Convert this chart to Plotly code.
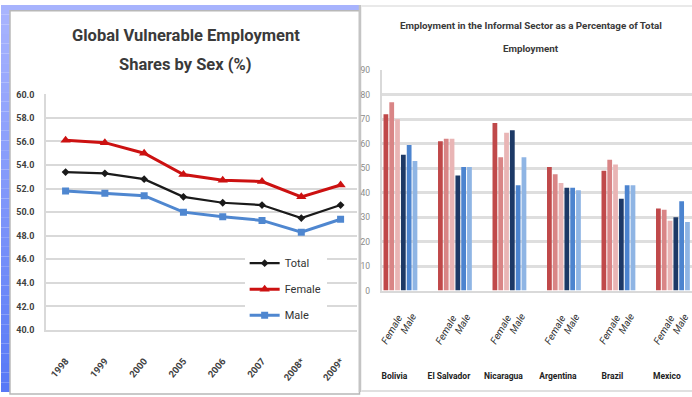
import plotly.graph_objects as go

W, H = 692, 397

# ---- Left chart: global vulnerable employment shares by sex (%) ----
years = ["1998", "1999", "2000", "2005", "2006", "2007", "2008*", "2009*"]
total = [53.4, 53.3, 52.8, 51.3, 50.8, 50.6, 49.5, 50.6]
female = [56.1, 55.9, 55.0, 53.2, 52.7, 52.6, 51.3, 52.3]
male = [51.8, 51.6, 51.4, 50.0, 49.6, 49.3, 48.3, 49.4]

# ---- Right chart: informal-sector employment as % of total ----
countries = ["Bolivia", "El Salvador", "Nicaragua", "Argentina", "Brazil", "Mexico"]
female_a = [72.0, 61.0, 68.5, 50.5, 49.0, 33.5]
female_b = [77.0, 62.0, 54.5, 47.5, 53.5, 33.0]
female_c = [70.0, 62.0, 64.5, 44.0, 51.5, 28.5]
male_a = [55.5, 47.0, 65.5, 42.0, 37.5, 30.0]
male_b = [59.5, 50.5, 43.0, 42.0, 43.0, 36.5]
male_c = [53.0, 50.5, 54.5, 41.0, 43.0, 28.0]
sex_labels = ["Female", "Male"]

FONT = "Roboto, Liberation Sans, sans-serif"
GRID = "#d9d9d9"


def px(x):
    return x / W


def py(y):
    return 1 - y / H


def nfont(size, color, **kw):
    return dict(family=FONT, size=size, color=color, **kw)


fig = go.Figure()

# Line series
fig.add_trace(go.Scatter(
    x=years, y=total, name="Total", mode="lines+markers", legendgroup="t",
    line=dict(color="#1a1a1a", width=2.2),
    marker=dict(symbol="diamond", size=6, color="#1a1a1a"),
    xaxis="x", yaxis="y"))
fig.add_trace(go.Scatter(
    x=years, y=female, name="Female", mode="lines+markers", legendgroup="f",
    line=dict(color="#cc1111", width=3),
    marker=dict(symbol="triangle-up", size=9, color="#cc1111"),
    xaxis="x", yaxis="y"))
fig.add_trace(go.Scatter(
    x=years, y=male, name="Male", mode="lines+markers", legendgroup="m",
    line=dict(color="#4f87d0", width=3),
    marker=dict(symbol="square", size=7, color="#4f87d0"),
    xaxis="x", yaxis="y"))

# Grouped bars: three female series then three male series per country
bar_series = [
    ("Female, period 1", female_a, "#c0494a"),
    ("Female, period 2", female_b, "#d98586"),
    ("Female, period 3", female_c, "#e9b5b5"),
    ("Male, period 1", male_a, "#1d3966"),
    ("Male, period 2", male_b, "#4c84cf"),
    ("Male, period 3", male_c, "#8fb5e4"),
]
for name, vals, col in bar_series:
    fig.add_trace(go.Bar(
        x=countries, y=vals, name=name, marker=dict(color=col, line=dict(width=0)),
        showlegend=False, xaxis="x2", yaxis="y2"))

# Background panels
shapes = []
shapes.append(dict(type="rect", xref="paper", yref="paper", x0=0, x1=px(360), y0=py(0), y1=py(8),
                   fillcolor="#a7b3fd", line=dict(width=0), layer="below"))
n = 40
top_c = (0xa8, 0xb4, 0xfe)
bot_c = (0x58, 0x79, 0xf6)
for i in range(n):
    t = i / (n - 1)
    c = tuple(int(round(top_c[k] + (bot_c[k] - top_c[k]) * t)) for k in range(3))
    shapes.append(dict(type="rect", xref="paper", yref="paper", x0=0, x1=px(9),
                       y0=py(H * (i + 1) / n), y1=py(H * i / n),
                       fillcolor="rgb(%d,%d,%d)" % c, line=dict(width=0), layer="below"))
shapes.append(dict(type="rect", xref="paper", yref="paper", x0=px(9), x1=px(359), y0=py(H + 2), y1=py(6),
                   fillcolor="white", line=dict(color="#b8b8b8", width=1.5), layer="below"))
shapes.append(dict(type="line", xref="paper", yref="paper", x0=px(359.5), x1=px(359.5), y0=0, y1=1,
                   line=dict(color="#c4c4c4", width=2.5), layer="below"))
shapes.append(dict(type="line", xref="paper", yref="paper", x0=px(361), x1=1, y0=py(1), y1=py(1),
                   line=dict(color="#e2e2e2", width=1.5), layer="below"))
shapes.append(dict(type="line", xref="paper", yref="paper", x0=px(361), x1=1, y0=py(396), y1=py(396),
                   line=dict(color="#d6d6d6", width=1.5), layer="below"))

annotations = []
# Titles
for text, yy, size, cx in [
    ("Global Vulnerable Employment", 31, 16.5, 185),
    ("Shares by Sex (%)", 61, 16.5, 185),
    ("Employment in the Informal Sector as a Percentage of Total", 21, 9.8, 531),
    ("Employment", 45, 9.8, 531),
]:
    annotations.append(dict(text=text, x=px(cx), y=py(yy), xref="paper", yref="paper",
                            xanchor="center", yanchor="middle", showarrow=False,
                            font=nfont(size, "#3a3a3a", weight="bold")))
# Sex labels under each country's bar groups
for ci, c in enumerate(countries):
    for si, lab in enumerate(sex_labels):
        annotations.append(dict(text=lab, x=c, xref="x2", y=py(333 if si == 0 else 327), yref="paper",
                                xshift=-8.7 if si == 0 else 8.0, textangle=-60,
                                xanchor="center", yanchor="middle", showarrow=False,
                                font=nfont(10, "#333333", style="italic")))

fig.update_layout(
    width=W, height=H, margin=dict(l=0, r=0, t=0, b=0),
    paper_bgcolor="white", plot_bgcolor="rgba(0,0,0,0)",
    shapes=shapes, annotations=annotations,
    barmode="group", bargap=0.36, bargroupgap=0.18,
    showlegend=True,
    legend=dict(x=px(244), y=py(250), xanchor="left", yanchor="top",
                bgcolor="white", borderwidth=0, tracegroupgap=7,
                font=nfont(11, "#333333")),
    xaxis=dict(domain=[px(45), px(357)], range=[-0.5, 7.43], type="category",
               showgrid=False, showline=True, linecolor=GRID, linewidth=2,
               tickangle=-50, ticks="", ticklabelstandoff=20,
               tickfont=nfont(9.5, "#404040", weight="bold"),
               anchor="y", fixedrange=True),
    yaxis=dict(domain=[py(333.3), py(91.7)], range=[40, 60], dtick=2, tickformat=".1f",
               showgrid=True, gridcolor=GRID, gridwidth=2, zeroline=False,
               showline=True, linecolor=GRID, linewidth=1.5, ticks="", ticklabelstandoff=8,
               tickfont=nfont(9, "#404040", weight="bold"),
               anchor="x"),
    xaxis2=dict(domain=[px(382), 1.0], range=[-0.33, 5.35], type="category",
                showgrid=False, showline=True, linecolor=GRID, linewidth=2,
                tickangle=0, ticks="", ticklabelstandoff=76, ticklabelshift=-6,
                tickfont=nfont(8.5, "#222222", weight="bold"),
                anchor="y2"),
    yaxis2=dict(domain=[py(293), py(67)], range=[0, 90], dtick=10,
                showgrid=True, gridcolor="#dedede", gridwidth=2.5, zeroline=False,
                showline=True, linecolor=GRID, linewidth=1.5, ticks="", ticklabelstandoff=9,
                tickfont=nfont(8.5, "#8a8a8a"),
                anchor="x2"),
)

fig.write_html("out.html")
